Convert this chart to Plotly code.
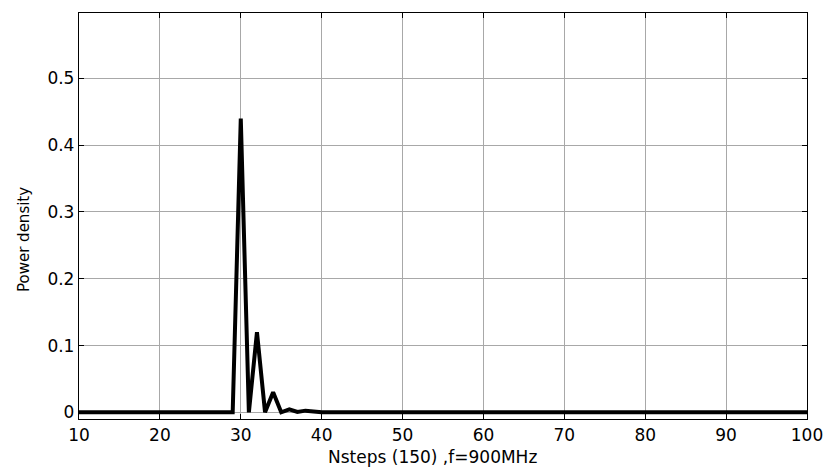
import plotly.graph_objects as go

# x positions (Nsteps) and power density values
x_vals = list(range(10, 101))
peak_x = [29, 30, 31, 32, 33, 34, 35, 36, 37, 38, 39, 40]
peak_y = [0.0, 0.44, 0.0, 0.12, 0.0, 0.03, 0.0, 0.0045, 0.0005, 0.0025, 0.001, 0.0]
y_vals = [peak_y[peak_x.index(v)] if v in peak_x else 0.0 for v in x_vals]

x_ticks = [10, 20, 30, 40, 50, 60, 70, 80, 90, 100]
y_ticks = [0, 0.1, 0.2, 0.3, 0.4, 0.5]
y_tick_text = ["0", "0.1", "0.2", "0.3", "0.4", "0.5"]

x_title = "Nsteps (150) ,f=900MHz"
y_title = "Power density"

fig = go.Figure()
fig.add_trace(go.Scatter(x=x_vals, y=y_vals, mode="lines",
                         line=dict(color="black", width=4), showlegend=False))

font_family = "DejaVu Sans, Arial, sans-serif"
fig.update_layout(
    width=827, height=471,
    margin=dict(l=79, r=20, t=13, b=52),
    paper_bgcolor="white", plot_bgcolor="white",
    font=dict(family=font_family, color="black", size=16),
)
fig.update_xaxes(
    range=[10, 100], tickvals=x_ticks, ticktext=[str(t) for t in x_ticks],
    showgrid=True, gridcolor="#a8a8a8", gridwidth=1,
    showline=True, linecolor="black", linewidth=1.3, mirror="ticks",
    ticks="inside", ticklen=5, tickcolor="black",
    tickfont=dict(size=17), zeroline=False, automargin=False,
    ticklabeloverflow="allow",
)
fig.update_yaxes(
    range=[-0.01, 0.598], tickvals=y_ticks, ticktext=y_tick_text,
    showgrid=True, gridcolor="#a8a8a8", gridwidth=1,
    showline=True, linecolor="black", linewidth=1.3, mirror="ticks",
    ticks="inside", ticklen=5, tickcolor="black",
    tickfont=dict(size=17), zeroline=False, automargin=False,
)
fig.add_annotation(text=x_title, xref="paper", yref="paper",
                   x=(432 - 79) / (807 - 79), y=-(457 - 419) / 406,
                   xanchor="center", yanchor="middle", showarrow=False,
                   font=dict(size=17, family=font_family))
fig.add_annotation(text=y_title, xref="paper", yref="paper",
                   x=-(79 - 24) / (807 - 79), y=(419 - 240) / 406,
                   xanchor="center", yanchor="middle", showarrow=False,
                   textangle=-90, font=dict(size=15, family=font_family))
fig.write_html("out.html", config={"displayModeBar": False},
               post_script="document.body.style.margin='0';document.body.style.overflow='hidden';")
